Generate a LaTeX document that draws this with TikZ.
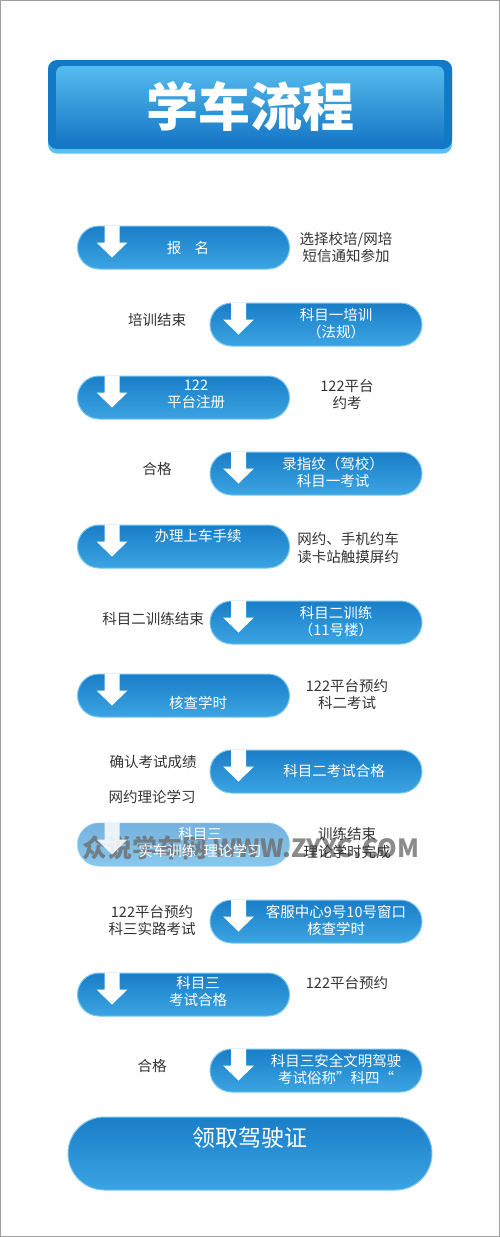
\documentclass[tikz,border=0pt]{standalone}
\usepackage{fontspec}
\newfontfamily\cjk{Noto Sans CJK SC}
\definecolor{pilltop}{HTML}{1A7EC8}
\definecolor{pillbot}{HTML}{3BA4E2}
\definecolor{pillrim}{HTML}{7CC6EF}
\definecolor{sidetxt}{HTML}{333333}
\definecolor{ttlouter}{HTML}{1279C6}
\definecolor{ttlrim}{HTML}{5CC0F0}
\definecolor{ttltop}{HTML}{55BCEE}
\definecolor{ttlbot}{HTML}{1475C4}
\definecolor{wmgray}{HTML}{6E6E6E}
\tikzset{
  pill/.style={draw=pillrim, line width=1pt, top color=pilltop, bottom color=pillbot,
    rounded corners=21.5pt, minimum width=212pt, minimum height=43pt, inner sep=0pt},
  pilltxt/.style={text=white, font=\cjk\fontsize{14.5}{17}\selectfont, align=center, inner sep=0pt},
  sidetext/.style={text=sidetxt, font=\cjk\fontsize{14.5}{17.5}\selectfont, align=center, inner sep=0pt},
  arrowicon/.style={fill=white}
}
\newcommand\mkarrow[2]{% #1 node name, #2 x offset of arrow centre from left edge
  \fill[arrowicon] (#1.north west) ++(#2-7.5,0) -- ++(15,0) -- ++(0,17) -- ++(8,0)
    -- ++(-15.5,15) -- ++(-15.5,-15) -- ++(8,0) -- cycle;}
\begin{document}
\begin{tikzpicture}[x=1pt,y=-1pt]
\useasboundingbox (0,0) rectangle (500,1237);
\fill[white] (0,0) rectangle (500,1237);
\draw[gray!75, line width=1.2pt] (0.6,0.6) rectangle (499.4,1236.4);

% title
\node[draw=none, fill=ttlrim, rounded corners=9pt, minimum width=404pt, minimum height=93pt] (ttlrimbox) at (250,107) {};
\node[draw=none, fill=ttlouter, rounded corners=9pt, minimum width=404pt, minimum height=89pt] (ttlout) at (250,104.5) {};
\node[top color=ttltop, bottom color=ttlbot, rounded corners=7pt, minimum width=388pt, minimum height=81pt] (ttlin) at (250,106.5) {};
\node[text=white, font=\cjk\bfseries\fontsize{52}{52}\selectfont, inner sep=0pt] (ttl) at (250,106) {学车流程};

% row 1 (left)
\node[pill] (p1) at (183.5,247.5) {};
\mkarrow{p1}{35}
\node[pilltxt] (t1) at (188,248) {报\hspace{0.9em}名};
\node[sidetext] (s1) at (346,247.5) {选择校培/网培\\短信通知参加};

% row 2 (right)
\node[pill] (p2) at (316,324.5) {};
\mkarrow{p2}{29}
\node[pilltxt] (t2) at (336,323.5) {科目一培训\\（法规）};
\node[sidetext] (s2) at (157,320) {培训结束};

% row 3 (left)
\node[pill] (p3) at (183.5,397.5) {};
\mkarrow{p3}{35}
\node[pilltxt] (t3) at (196,394.5) {122\\平台注册};
\node[sidetext] (s3) at (347,394.5) {122平台\\约考};

% row 4 (right)
\node[pill] (p4) at (316,473.5) {};
\mkarrow{p4}{29}
\node[pilltxt] (t4) at (333,472.5) {录指纹（驾校）\\科目一考试};
\node[sidetext] (s4) at (157,469) {合格};

% row 5 (left)
\node[pill] (p5) at (183.5,546.5) {};
\mkarrow{p5}{35}
\node[pilltxt] (t5) at (198,536) {办理上车手续};
\node[sidetext] (s5) at (348,548) {网约、手机约车\\读卡站触摸屏约};

% row 6 (right)
\node[pill] (p6) at (316,622.5) {};
\mkarrow{p6}{29}
\node[pilltxt] (t6) at (336,621.5) {科目二训练\\（11号楼）};
\node[sidetext] (s6) at (153,619) {科目二训练结束};

% row 7 (left)
\node[pill] (p7) at (183.5,695.5) {};
\mkarrow{p7}{35}
\node[pilltxt] (t7) at (198,703) {核查学时};
\node[sidetext] (s7) at (347,694.5) {122平台预约\\科二考试};

% row 8 (right)
\node[pill] (p8) at (316,771.5) {};
\mkarrow{p8}{29}
\node[pilltxt] (t8) at (334,771) {科目二考试合格};
\node[sidetext] (s8a) at (153,762) {确认考试成绩};
\node[sidetext] (s8b) at (152,797) {网约理论学习};

% row 9 (left, faded under the watermark)
\node[pill, opacity=0.6] (p9) at (183.5,844.5) {};
\node[text=wmgray, opacity=0.8, font=\cjk\bfseries\fontsize{25}{25}\selectfont, inner sep=0pt] (wm) at (251,848) {众说学车网 WWW.ZYXC.COM};
\fill[arrowicon, opacity=0.85] (p9.north west) ++(27.5,0) -- ++(15,0) -- ++(0,17) -- ++(8,0)
    -- ++(-15.5,15) -- ++(-15.5,-15) -- ++(8,0) -- cycle;
\node[pilltxt] (t9) at (200,842.5) {科目三\\实车训练\hspace{0.5em}理论学习};
\node[sidetext] (s9) at (347,843) {训练结束\\理论学时完成};

% row 10 (right)
\node[pill] (p10) at (316,921.5) {};
\mkarrow{p10}{29}
\node[pilltxt] (t10) at (336,920.5) {客服中心9号10号窗口\\核查学时};
\node[sidetext] (s10) at (152,920.5) {122平台预约\\科三实路考试};

% row 11 (left)
\node[pill] (p11) at (183.5,994.5) {};
\mkarrow{p11}{35}
\node[pilltxt] (t11) at (198,991.5) {科目三\\考试合格};
\node[sidetext] (s11) at (347,983) {122平台预约};

% row 12 (right)
\node[pill] (p12) at (316,1070.5) {};
\mkarrow{p12}{29}
\node[pilltxt] (t12) at (336,1069.5) {科目三安全文明驾驶\\考试俗称”科四“};
\node[sidetext] (s12) at (152,1066) {合格};

% final
\node[pill, rounded corners=36.5pt, minimum width=364pt, minimum height=73pt] (p13) at (250,1153.5) {};
\node[text=white, font=\cjk\fontsize{23}{23}\selectfont, inner sep=0pt] (t13) at (250,1138) {领取驾驶证};
\end{tikzpicture}
\end{document}
